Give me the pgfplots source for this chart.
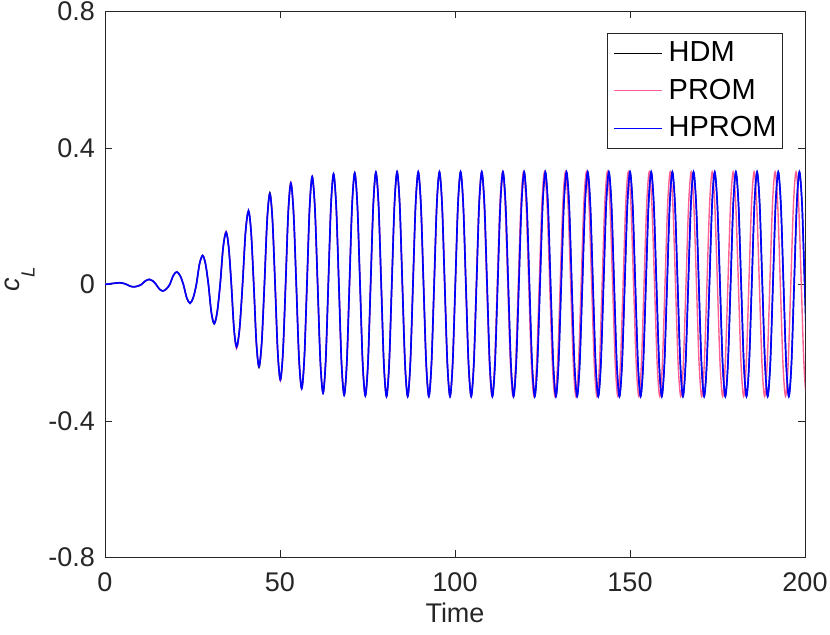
\documentclass[border=0pt]{standalone}
\usepackage{fontspec}
\setmainfont{Liberation Sans}
\usepackage{pgfplots}
\usepackage{pgfplotstable}
\pgfplotsset{compat=1.18}
\definecolor{promc}{RGB}{255,95,145}
\definecolor{axc}{RGB}{38,38,38}

\pgfplotstableread{
t hdm hprom
0 0 0
2.15 0.003 0.003
4.3 0.005 0.005
5.25 0.0035 0.0035
6.2 0 0
7.15 -0.005 -0.005
8.1 -0.007 -0.007
9.25 -0.005 -0.005
10.4 0 0
11.55 0.0106 0.0106
12.7 0.015 0.015
13.65 0.0106 0.0106
14.6 0 0
15.55 -0.0134 -0.0134
16.5 -0.019 -0.019
17.5 -0.0134 -0.0134
18.5 0 0
19.5 0.026 0.026
20.5 0.037 0.037
21.45 0.026 0.026
22.4 0 0
23.35 -0.039 -0.039
24.3 -0.055 -0.055
25.2 -0.039 -0.039
26.1 0 0
27.0 0.060 0.060
27.9 0.085 0.085
28.725 0.060 0.060
29.55 0 0
30.375 -0.081 -0.081
31.2 -0.115 -0.115
32.05 -0.081 -0.081
32.9 0 0
33.75 0.108 0.108
34.6 0.153 0.153
35.35 0.108 0.108
36.1 0 0
36.85 -0.129 -0.129
37.6 -0.183 -0.183
38.45 -0.129 -0.129
39.3 0 0
40.15 0.153 0.153
41.0 0.216 0.216
41.75 0.153 0.153
42.5 0 0
43.25 -0.173 -0.170
44.0 -0.244 -0.240
44.775 -0.173 -0.170
45.55 0 0
46.325 0.191 0.188
47.1 0.270 0.266
47.85 0.191 0.188
48.6 0 0
49.35 -0.197 -0.197
50.1 -0.279 -0.279
50.85 -0.197 -0.197
51.6 0 0
52.35 0.210 0.210
53.1 0.297 0.297
53.875 0.210 0.210
54.65 0 0
55.425 -0.216 -0.216
56.2 -0.305 -0.305
56.95 -0.216 -0.216
57.7 0 0
58.45 0.223 0.223
59.2 0.316 0.316
59.975 0.223 0.223
60.75 0 0
61.525 -0.225 -0.225
62.3 -0.318 -0.318
63.05 -0.225 -0.225
63.8 0 0
64.55 0.229 0.229
65.3 0.324 0.324
66.06 0.229 0.229
66.82 0 0
67.57 -0.229 -0.229
68.33 -0.324 -0.324
69.09 -0.229 -0.229
69.84 0 0
70.59 0.231 0.231
71.35 0.327 0.327
72.11 0.231 0.231
72.87 0 0
73.62 -0.230 -0.230
74.38 -0.326 -0.326
75.14 -0.230 -0.230
75.89 0 0
76.65 0.233 0.233
77.40 0.329 0.329
78.16 0.233 0.233
78.92 0 0
79.67 -0.232 -0.232
80.43 -0.328 -0.328
81.19 -0.232 -0.232
81.94 0 0
82.70 0.233 0.233
83.45 0.330 0.330
84.21 0.233 0.233
84.96 0 0
85.72 -0.232 -0.232
86.48 -0.328 -0.328
87.23 -0.232 -0.232
87.99 0 0
88.74 0.233 0.233
89.50 0.330 0.330
90.26 0.233 0.233
91.01 0 0
91.77 -0.232 -0.232
92.53 -0.328 -0.328
93.28 -0.232 -0.232
94.04 0 0
94.79 0.233 0.233
95.55 0.330 0.330
96.31 0.233 0.233
97.06 0 0
97.82 -0.232 -0.232
98.58 -0.328 -0.328
99.33 -0.232 -0.232
100.09 0 0
100.84 0.233 0.233
101.60 0.330 0.330
102.36 0.233 0.233
103.11 0 0
103.87 -0.232 -0.232
104.63 -0.328 -0.328
105.38 -0.232 -0.232
106.14 0 0
106.89 0.233 0.233
107.65 0.330 0.330
108.41 0.233 0.233
109.16 0 0
109.92 -0.232 -0.232
110.68 -0.328 -0.328
111.43 -0.232 -0.232
112.19 0 0
112.94 0.233 0.233
113.70 0.330 0.330
114.46 0.233 0.233
115.21 0 0
115.97 -0.232 -0.232
116.73 -0.328 -0.328
117.48 -0.232 -0.232
118.24 0 0
118.99 0.233 0.233
119.75 0.330 0.330
120.51 0.233 0.233
121.26 0 0
122.02 -0.232 -0.232
122.78 -0.328 -0.328
123.53 -0.232 -0.232
124.29 0 0
125.04 0.233 0.233
125.80 0.330 0.330
126.56 0.233 0.233
127.31 0 0
128.07 -0.232 -0.232
128.83 -0.328 -0.328
129.58 -0.232 -0.232
130.34 0 0
131.09 0.233 0.233
131.85 0.330 0.330
132.61 0.233 0.233
133.36 0 0
134.12 -0.232 -0.232
134.88 -0.328 -0.328
135.63 -0.232 -0.232
136.39 0 0
137.14 0.233 0.233
137.90 0.330 0.330
138.66 0.233 0.233
139.41 0 0
140.17 -0.232 -0.232
140.93 -0.328 -0.328
141.68 -0.232 -0.232
142.44 0 0
143.19 0.233 0.233
143.95 0.330 0.330
144.71 0.233 0.233
145.46 0 0
146.22 -0.232 -0.232
146.98 -0.328 -0.328
147.73 -0.232 -0.232
148.49 0 0
149.24 0.233 0.233
150.00 0.330 0.330
150.76 0.233 0.233
151.51 0 0
152.27 -0.232 -0.232
153.03 -0.328 -0.328
153.78 -0.232 -0.232
154.54 0 0
155.29 0.233 0.233
156.05 0.330 0.330
156.81 0.233 0.233
157.56 0 0
158.32 -0.232 -0.232
159.08 -0.328 -0.328
159.83 -0.232 -0.232
160.59 0 0
161.34 0.233 0.233
162.10 0.330 0.330
162.86 0.233 0.233
163.61 0 0
164.37 -0.232 -0.232
165.13 -0.328 -0.328
165.88 -0.232 -0.232
166.64 0 0
167.39 0.233 0.233
168.15 0.330 0.330
168.91 0.233 0.233
169.66 0 0
170.42 -0.232 -0.232
171.18 -0.328 -0.328
171.93 -0.232 -0.232
172.69 0 0
173.44 0.233 0.233
174.20 0.330 0.330
174.96 0.233 0.233
175.71 0 0
176.47 -0.232 -0.232
177.23 -0.328 -0.328
177.98 -0.232 -0.232
178.74 0 0
179.49 0.233 0.233
180.25 0.330 0.330
181.01 0.233 0.233
181.76 0 0
182.52 -0.232 -0.232
183.28 -0.328 -0.328
184.03 -0.232 -0.232
184.79 0 0
185.54 0.233 0.233
186.30 0.330 0.330
187.06 0.233 0.233
187.81 0 0
188.57 -0.232 -0.232
189.33 -0.328 -0.328
190.08 -0.232 -0.232
190.84 0 0
191.59 0.233 0.233
192.35 0.330 0.330
193.11 0.233 0.233
193.86 0 0
194.62 -0.232 -0.232
195.38 -0.328 -0.328
196.13 -0.232 -0.232
196.89 0 0
197.64 0.233 0.233
198.40 0.330 0.330
199.16 0.233 0.233
199.91 0 0
200.67 -0.232 -0.232
201.43 -0.328 -0.328
}\tblA

\pgfplotstableread{
t prom
0 0
2.15 0.003
4.3 0.005
5.25 0.0035
6.2 0
7.15 -0.005
8.1 -0.007
9.25 -0.005
10.4 0
11.55 0.0106
12.7 0.015
13.65 0.0106
14.6 0
15.55 -0.0134
16.5 -0.019
17.5 -0.0134
18.5 0
19.5 0.026
20.5 0.037
21.45 0.026
22.4 0
23.35 -0.039
24.3 -0.055
25.2 -0.039
26.1 0
27.0 0.060
27.9 0.085
28.725 0.060
29.55 0
30.375 -0.081
31.2 -0.115
32.05 -0.081
32.9 0
33.75 0.110
34.6 0.156
35.35 0.110
36.1 0
36.85 -0.133
37.6 -0.188
38.45 -0.133
39.3 0
40.15 0.153
41.0 0.216
41.75 0.153
42.5 0
43.25 -0.170
44.0 -0.240
44.775 -0.170
45.55 0
46.325 0.188
47.1 0.266
47.85 0.188
48.6 0
49.35 -0.200
50.1 -0.283
50.85 -0.200
51.6 0
52.35 0.212
53.1 0.300
53.875 0.212
54.65 0
55.425 -0.216
56.2 -0.305
56.95 -0.216
57.7 0
58.45 0.223
59.2 0.316
59.975 0.223
60.75 0
61.525 -0.225
62.3 -0.318
63.05 -0.225
63.8 0
64.55 0.229
65.3 0.324
66.06 0.229
66.82 0
67.57 -0.229
68.33 -0.324
69.09 -0.229
69.84 0
70.59 0.231
71.35 0.327
72.11 0.231
72.87 0
73.62 -0.230
74.38 -0.326
75.14 -0.230
75.89 0
76.65 0.233
77.40 0.329
78.16 0.233
78.92 0
79.67 -0.232
80.43 -0.328
81.19 -0.232
81.94 0
82.70 0.233
83.45 0.330
84.21 0.233
84.96 0
85.72 -0.232
86.48 -0.328
87.23 -0.232
87.99 0
88.74 0.233
89.50 0.330
90.26 0.233
91.01 0
91.77 -0.232
92.53 -0.328
93.28 -0.232
94.04 0
94.79 0.233
95.55 0.330
96.31 0.233
97.06 0
97.82 -0.232
98.58 -0.328
99.33 -0.232
100.09 0
100.84 0.233
101.60 0.330
102.35 0.233
103.10 0
103.85 -0.232
104.60 -0.328
105.34 -0.232
106.09 0
106.84 0.233
107.59 0.330
108.34 0.233
109.09 0
109.84 -0.232
110.59 -0.328
111.33 -0.232
112.08 0
112.83 0.233
113.58 0.330
114.33 0.233
115.08 0
115.83 -0.232
116.58 -0.328
117.32 -0.232
118.07 0
118.82 0.233
119.57 0.330
120.32 0.233
121.07 0
121.82 -0.232
122.57 -0.328
123.31 -0.232
124.06 0
124.81 0.233
125.56 0.330
126.31 0.233
127.06 0
127.81 -0.232
128.56 -0.328
129.30 -0.232
130.05 0
130.80 0.233
131.55 0.330
132.30 0.233
133.05 0
133.80 -0.232
134.55 -0.328
135.29 -0.232
136.04 0
136.79 0.233
137.54 0.330
138.29 0.233
139.04 0
139.79 -0.232
140.54 -0.328
141.28 -0.232
142.03 0
142.78 0.233
143.53 0.330
144.28 0.233
145.03 0
145.78 -0.232
146.53 -0.328
147.27 -0.232
148.02 0
148.77 0.233
149.52 0.330
150.27 0.233
151.02 0
151.77 -0.232
152.52 -0.328
153.26 -0.232
154.01 0
154.76 0.233
155.51 0.330
156.26 0.233
157.01 0
157.76 -0.232
158.51 -0.328
159.25 -0.232
160.00 0
160.75 0.233
161.50 0.330
162.25 0.233
163.00 0
163.75 -0.232
164.50 -0.328
165.24 -0.232
165.99 0
166.74 0.233
167.49 0.330
168.24 0.233
168.99 0
169.74 -0.232
170.49 -0.328
171.23 -0.232
171.98 0
172.73 0.233
173.48 0.330
174.23 0.233
174.98 0
175.73 -0.232
176.48 -0.328
177.22 -0.232
177.97 0
178.72 0.233
179.47 0.330
180.22 0.233
180.97 0
181.72 -0.232
182.47 -0.328
183.21 -0.232
183.96 0
184.71 0.233
185.46 0.330
186.21 0.233
186.96 0
187.71 -0.232
188.46 -0.328
189.20 -0.232
189.95 0
190.70 0.233
191.45 0.330
192.20 0.233
192.95 0
193.70 -0.232
194.45 -0.328
195.19 -0.232
195.94 0
196.69 0.233
197.44 0.330
198.19 0.233
198.94 0
199.69 -0.232
200.44 -0.328
201.19 -0.232
}\tblB

\begin{document}
\begin{tikzpicture}
\useasboundingbox (0,0) rectangle (415pt,317.5pt);
\begin{axis}[
  at={(52.5pt,38.75pt)}, anchor=south west,
  scale only axis, width=350pt, height=273pt,
  xmin=0, xmax=200, ymin=-0.8, ymax=0.8,
  xtick={0,50,100,150,200}, xticklabels={0,50,100,150,200},
  ytick={-0.8,-0.4,0,0.4,0.8}, yticklabels={-0.8,-0.4,0,0.4,0.8},
  tick align=inside, major tick length=3.5pt,
  axis line style={axc, line width=0.4pt},
  every tick/.style={axc, line width=0.4pt},
  ticklabel style={font=\fontsize{13.5}{16}\selectfont, text=axc},
  xticklabel style={yshift=-4pt},
  yticklabel style={xshift=-1.5pt},
  xlabel={Time},
  xlabel style={at={(axis description cs:0.5,-0.0833)}, anchor=north, inner sep=0pt, font=\fontsize{13.5}{16}\selectfont, text=axc},
  ylabel={\textit{c}\raisebox{-7.5pt}{\fontsize{9.5}{10}\selectfont\textit{L}}},
  ylabel style={at={(axis description cs:-0.100,0.51)}, anchor=south, rotate=0, inner sep=0pt, font=\fontsize{13.5}{16}\selectfont, text=axc},
  legend style={at={(1,1)}, anchor=north east, xshift=-11pt, yshift=-10.75pt,
    draw=axc, line width=0.4pt, inner xsep=3pt, inner ysep=0.5pt,
    font=\fontsize{14.5}{17}\selectfont, column sep=3pt, row sep=0pt,
    nodes={inner xsep=0pt, inner ysep=3.6pt}},
  legend cell align=left,
  legend image code/.code={\draw[#1, line width=0.45pt] (0pt,0pt) -- (24pt,0pt);},
]
\addplot[black, line width=0.6pt, smooth] table[x=t, y=hdm] {\tblA};
\addlegendentry{HDM}
\addplot[promc, line width=0.7pt, smooth] table[x=t, y=prom] {\tblB};
\addlegendentry{PROM}
\addplot[blue, line width=0.85pt, smooth] table[x=t, y=hprom] {\tblA};
\addlegendentry{HPROM}
\end{axis}
\end{tikzpicture}
\end{document}
